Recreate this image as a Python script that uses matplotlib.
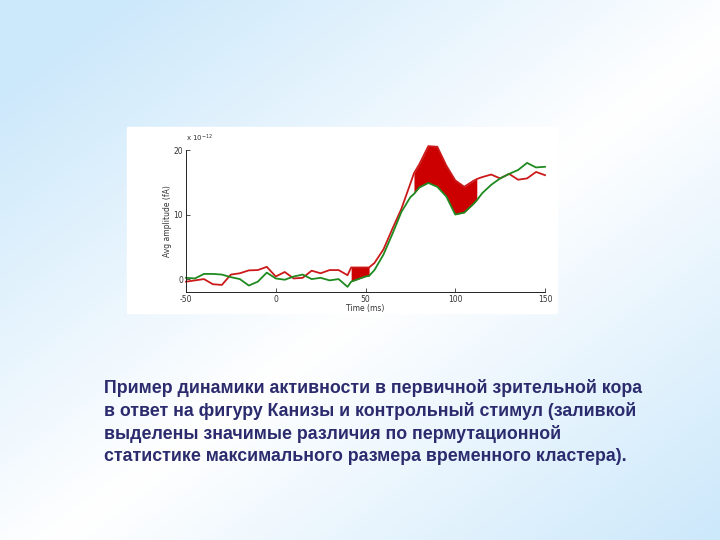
import numpy as np
import matplotlib.pyplot as plt

# время (мс) и средняя амплитуда (x 1e-12)
time_ms = [-50, -45, -40, -35, -30, -25, -20, -15, -10, -5, 0, 5, 10, 15, 20, 25, 30, 35,
           40, 42, 45, 50, 52, 55, 60, 65, 70, 75, 77, 80, 85, 90, 95, 100, 105, 110, 112,
           115, 120, 125, 130, 135, 140, 145, 150]
kanizsa = [-0.4, -0.2, 0.0, -0.8, -0.9, 0.7, 0.9, 1.35, 1.4, 1.9, 0.4, 1.1, 0.1, 0.2, 1.3, 0.9, 1.4, 1.4,
           0.6, 1.8, 1.8, 1.8, 1.8, 2.5, 4.6, 7.8, 10.9, 14.8, 16.4, 17.8, 20.6, 20.5, 17.6, 15.3, 14.3, 15.2, 15.5,
           15.8, 16.2, 15.6, 16.3, 15.4, 15.6, 16.6, 16.1]
control = [0.2, 0.1, 0.8, 0.8, 0.7, 0.3, 0.0, -1.0, -0.4, 1.0, 0.1, -0.1, 0.4, 0.7, 0.0, 0.2, -0.2, 0.0,
           -1.2, -0.4, -0.1, 0.4, 0.5, 1.4, 3.8, 7.0, 10.4, 12.7, 13.2, 14.2, 14.9, 14.3, 12.8, 10.0, 10.3, 11.6, 12.2,
           13.3, 14.6, 15.6, 16.3, 16.9, 18.0, 17.3, 17.4]
# значимые кластеры
clusters = [(42, 52), (77, 112)]

x_ticks = [-50, 0, 50, 100, 150]
y_ticks = [0, 10, 20]

caption = ("Пример динамики активности в первичной зрительной кора\n"
           "в ответ на фигуру Канизы и контрольный стимул (заливкой\n"
           "выделены значимые различия по пермутационной\n"
           "статистике максимального размера временного кластера).")

fig = plt.figure(figsize=(7.2, 5.4), dpi=100)

# фон слайда: голубой градиент
bg = fig.add_axes([0, 0, 1, 1], zorder=-10)
xx, yy = np.meshgrid(np.linspace(0, 1, 300), np.linspace(0, 1, 300))
s = np.abs(xx + yy - 1.08)
s = np.clip(s / 0.92, 0, 1)
blue = np.array([0.80, 0.91, 0.985])
img = (1 - s)[..., None] * np.array([1.0, 1.0, 1.0]) + s[..., None] * blue
bg.imshow(img, extent=[0, 1, 0, 1], aspect='auto', origin='upper')
bg.axis('off')

# белая подложка графика
fig.patches.append(plt.Rectangle((127 / 720, 1 - 313 / 540), 430 / 720, 186 / 540,
                                 transform=fig.transFigure, color='white', zorder=-5))

ax = fig.add_axes([186 / 720, 1 - 292 / 540, 359 / 720, 142 / 540])
t = np.array(time_ms)
r = np.array(kanizsa)
g = np.array(control)
for a, b in clusters:
    m = (t >= a) & (t <= b)
    ax.fill_between(t[m], g[m], r[m], color='#cc0000', linewidth=0, clip_on=False)
ax.plot(t, r, color='#cc1a1a', lw=1.3, clip_on=False)
ax.plot(t, g, color='#1f8a1f', lw=1.3, clip_on=False)

ax.set_xlim(-50, 150)
ax.set_ylim(-2, 20)
ax.set_xticks(x_ticks)
ax.set_xticklabels([str(v) for v in x_ticks])
ax.set_yticks(y_ticks)
ax.set_yticklabels([str(v) for v in y_ticks])
ax.tick_params(direction='in', length=3, width=0.6, labelsize=5.5, pad=2, colors='#333333')
ax.spines['top'].set_visible(False)
ax.spines['right'].set_visible(False)
for sp in ['left', 'bottom']:
    ax.spines[sp].set_linewidth(0.7)
    ax.spines[sp].set_color('#222222')
ax.set_facecolor('none')
ax.set_xlabel('Time (ms)', fontsize=5.5, labelpad=0, color='#333333')
ax.set_ylabel('Avg amplitude (fA)', fontsize=5.5, labelpad=1, color='#333333')
ax.text(0.0, 1.04, r'x 10$^{-12}$', transform=ax.transAxes, fontsize=5, color='#333333',
        ha='left', va='bottom')

fig.text(104 / 720, 1 - 379 / 540, caption, fontsize=12.8, fontweight='bold',
         family=['Liberation Sans', 'DejaVu Sans'], color='#2b2b6e',
         ha='left', va='top', linespacing=1.37)

fig.savefig('out.png', dpi=100)
